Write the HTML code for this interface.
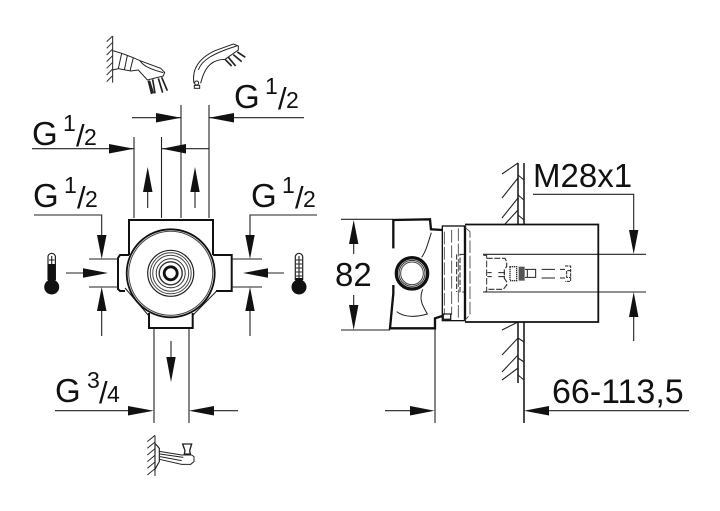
<!DOCTYPE html>
<html><head><meta charset="utf-8"><style>
html,body{margin:0;padding:0;background:#fff;width:720px;height:511px;overflow:hidden}
svg{display:block}
text{font-family:"Liberation Sans",sans-serif;fill:#111}
.g{font-size:33px}.f{font-size:23px}.s{font-size:31px}
.l{stroke:#222;stroke-width:1.1;fill:none}
.t{stroke:#111;stroke-width:2;fill:none}
.a{fill:#111;stroke:none}
.h{stroke:#333;stroke-width:3;fill:none}
.i{stroke:#222;stroke-width:3;fill:none}
.d{stroke:#444;stroke-width:2.6;fill:none;stroke-dasharray:38 8}
</style></head><body>
<svg width="720" height="511" viewBox="0 0 720 511" xmlns="http://www.w3.org/2000/svg">

<!-- text -->
<text class="g" x="234" y="108">G</text><text class="f" x="265" y="94">1</text><text class="s" x="278" y="109">/</text><text class="f" x="286" y="108">2</text>
<text class="g" x="32" y="145">G</text><text class="f" x="63" y="131">1</text><text class="s" x="76" y="146">/</text><text class="f" x="84" y="145">2</text>
<text class="g" x="33" y="207">G</text><text class="f" x="64" y="193">1</text><text class="s" x="77" y="208">/</text><text class="f" x="85" y="207">2</text>
<text class="g" x="251" y="207">G</text><text class="f" x="282" y="193">1</text><text class="s" x="295" y="208">/</text><text class="f" x="303" y="207">2</text>
<text class="g" x="55" y="402">G</text><text class="f" x="87" y="388">3</text><text class="s" x="99" y="403">/</text><text class="f" x="107" y="402">4</text>
<text class="g" x="533" y="187">M28x1</text>
<text class="g" x="335" y="286">82</text>
<text class="g" style="font-size:34px" x="552" y="403">66-113,5</text>

<!-- top dims -->
<path class="l" d="M132 117.7H181M181 105V218M209 105V218M209 117.7H304M32 148.7H134M134 137V218M161.5 137V218M161.5 148.7H209"/>
<polygon class="a" points="181,117.7 156,113 156,122.5"/>
<polygon class="a" points="209,117.7 234,113 234,122.5"/>
<polygon class="a" points="134,148.7 109,144 109,153.5"/>
<polygon class="a" points="162,148.7 186,144 186,153.5"/>
<path class="l" d="M147.7 190V208M195 190V208"/>
<polygon class="a" points="147.7,167 143,192 152.5,192"/>
<polygon class="a" points="195,167 190.3,192 199.7,192"/>

<!-- main body -->
<path class="t" d="M129 255V220H213V255"/>
<path class="t" d="M129 255H120L118 258V289L120 291H125"/>
<path class="t" d="M213 255H231.7V291H216"/>
<path class="l" d="M125 288L149 316M216.7 291L193 315"/>
<path class="t" d="M149 313V328H192.7V313"/>
<circle cx="170.7" cy="273.3" r="44" fill="#fff" stroke="#111" stroke-width="1.8"/>
<circle cx="170.7" cy="273.3" r="42" fill="none" stroke="#444" stroke-width="1"/>
<circle cx="170.7" cy="273.3" r="23" fill="none" stroke="#222" stroke-width="1.2"/>
<circle cx="170.7" cy="273.3" r="20.5" fill="none" stroke="#444" stroke-width="1"/>
<circle cx="170.7" cy="273.3" r="18" fill="none" stroke="#444" stroke-width="1"/>
<circle cx="170.7" cy="273.3" r="14.5" fill="none" stroke="#333" stroke-width="1"/>
<circle cx="170.7" cy="273.3" r="11.5" fill="none" stroke="#333" stroke-width="1.4"/>
<circle cx="170.7" cy="273.3" r="6.5" fill="none" stroke="#111" stroke-width="2.8"/>
<path class="l" d="M154 329V423M189 329V423"/>

<!-- left/right dims -->
<path class="l" d="M34 215H101.7V240M89 259H118M89 287H118M66 273H90M101.7 305V336"/>
<polygon class="a" points="101.7,259 97,235 106.5,235"/>
<polygon class="a" points="101.7,287 97,311 106.5,311"/>
<polygon class="a" points="108,273 83,268.3 83,277.7"/>
<path class="l" d="M317 215H250V240M232 259H262M232 287H262M284 273H262M250 305V336"/>
<polygon class="a" points="250,259 245.3,235 254.7,235"/>
<polygon class="a" points="250,287 245.3,311 254.7,311"/>
<polygon class="a" points="243,273 268,268.3 268,277.7"/>

<!-- thermometers -->
<g>
<path d="M48 280V257a3.7 3.7 0 0 1 7.4 0V280" fill="#fff" stroke="#222" stroke-width="1.2"/>
<rect x="48" y="264" width="7.4" height="20" fill="#111"/>
<circle cx="51.7" cy="287" r="7.5" fill="#111"/>
<path class="l" d="M51.7 256V264M49 260H54.4"/>
<path d="M295.3 280V257a3.7 3.7 0 0 1 7.4 0V280" fill="#fff" stroke="#222" stroke-width="1.2"/>
<rect x="295.3" y="278" width="7.4" height="6" fill="#111"/>
<circle cx="299" cy="287" r="7.5" fill="#111"/>
<path class="l" d="M299 256V278M296 260H302M296 264H302M296 268H302M296 272H302M296 276H302"/>
</g>

<!-- bottom dims -->
<path class="l" d="M171 341V360M55 410.7H130M214 410.7H238"/>
<polygon class="a" points="171,382 166.3,357 175.7,357"/>
<polygon class="a" points="153.7,410.7 128,406 128,415.5"/>
<polygon class="a" points="189,410.7 214,406 214,415.5"/>

<!-- shower 1 -->
<g transform="translate(90 20) scale(.3333)">
<path class="i" d="M68 48V188"/>
<path class="h" d="M50 65L68 48M50 85L68 67M50 105L68 87M50 125L68 107M50 145L68 127M50 165L68 147M50 185L68 167"/>
<path class="i" d="M68 92L95 100L130 113L150 122L212 145L224 157L220 168L172 180L145 150L122 153L85 146L68 150"/>
<path class="i" d="M95 100L85 146M112 107L103 150M130 113L120 153M150 122C160 140 190 150 220 158"/>
<path d="M175 182L185 222M188 178L195 220M205 175L218 218M215 172L232 212M178 182L190 220" stroke="#222" stroke-width="5" fill="none"/>
</g>
<!-- shower 2 -->
<g transform="translate(90 20) scale(.3333)">
<path class="i" stroke-width="4" d="M312 190C305 150 325 115 375 92L430 72L445 78L445 90L405 118C370 118 345 135 332 190"/>
<path class="i" d="M325 150C335 120 370 100 440 78"/>
<circle cx="320" cy="189" r="6" fill="#fff" stroke="#222" stroke-width="3"/>
<rect x="313" y="196" width="16" height="9" fill="#fff" stroke="#222" stroke-width="3"/>
<path d="M405 118L425 138M415 112L437 138M430 104L455 125M442 96L466 112" stroke="#222" stroke-width="5" fill="none"/>
</g>

<!-- tap -->
<g transform="translate(40 330) scale(.3333)">
<path class="i" d="M345 316V438"/>
<path class="h" d="M322 335L345 316M322 355L345 336M322 375L345 356M322 395L345 376M322 415L345 396M322 435L345 416"/>
<path d="M345 340L358 355V395L345 418Z" fill="#fff" stroke="#222" stroke-width="3.5"/>
<path class="i" d="M358 364L425 375H455L462 380V395L452 403H425L358 388"/>
<path class="i" d="M360 372L430 382M360 380L425 392"/>
<path d="M428 342H455L449 362L451 372H433L435 362Z" fill="#fff" stroke="#222" stroke-width="4"/>
</g>

<!-- right view dims -->
<path class="l" d="M341 219.3H393M341 330H390M353.7 240V254M353.7 295V310"/>
<polygon class="a" points="353.7,220 349,244 358.4,244"/>
<polygon class="a" points="353.7,330 349,305 358.4,305"/>
<path class="l" d="M435 318V423M385 410.7H412M549 410.7H689M524 322V423"/>
<polygon class="a" points="434.5,410.7 410,406 410,415.5"/>
<polygon class="a" points="524,410.7 549,406 549,415.5"/>
<path class="l" d="M533 194.3H633.7V232M483 254.3H646M483 292H646M633.7 315V341"/>
<polygon class="a" points="633.7,254 629,230 638.4,230"/>
<polygon class="a" points="633.7,292 629,317 638.4,317"/>

<!-- wall -->
<g>
<path stroke="#222" stroke-width="1.6" fill="none" d="M518 163V224M524 163V224M518 322V383M524 322V423"/>
<path class="l" d="M502 174L518 163M502 198L518 178M502 218L518 198M505 224L518 210M518 175L524 180M518 195L524 200M518 215L524 220"/>
<path class="l" d="M502 330L518 322M502 355L518 338M502 372L518 355M502 380L518 368M518 338L524 342M518 358L524 362M518 375L524 380"/>
</g>

<!-- valve side -->
<g transform="translate(330 150) scale(.3333)">
<path d="M190 295V210L300 208L303 238L337 240" stroke="#111" stroke-width="7" fill="none"/>
<path d="M190 405V430L180 535H315V505L337 498" stroke="#111" stroke-width="7" fill="none"/>
<path class="i" d="M304 248C295 275 290 300 275 322M200 485C225 505 265 500 292 492C280 470 265 450 278 418"/>
<circle cx="246" cy="370" r="47" fill="#fff" stroke="#111" stroke-width="10"/>
<circle cx="246" cy="370" r="39" fill="none" stroke="#333" stroke-width="3"/>
<circle cx="246" cy="370" r="34" fill="none" stroke="#444" stroke-width="3"/>
<rect x="337" y="228" width="68" height="284" fill="#fff" stroke="#111" stroke-width="4"/>
<path d="M405 228V512" stroke="#111" stroke-width="7"/>
<path class="d" d="M343 245V495M365 240V495M385 235V505"/>
<path class="d" d="M405 232L420 245V495L405 510"/>
<path d="M340 492H362V508H340Z" fill="none" stroke="#222" stroke-width="4"/>
</g>
<path d="M465 224.5H598.3V322H465" stroke="#111" stroke-width="1.8" fill="none"/>

<!-- internals -->
<g transform="translate(470 150) scale(.3333)">
<path class="i" d="M-40 313V426M-18 313H-30V426H-18" stroke-dasharray="16 6"/>
<path d="M40 316H50V425H40" fill="none" stroke="#333" stroke-width="3" stroke-dasharray="20 6"/>
<path d="M50 325H105L110 335V350L103 358V385L110 395V405L100 418H50" fill="none" stroke="#333" stroke-width="3.5" stroke-dasharray="18 5"/>
<path class="i" d="M52 368H65M52 380H65M85 368H105M85 380H105"/>
<rect x="120" y="350" width="20" height="42" fill="none" stroke="#333" stroke-width="4" stroke-dasharray="4 2"/>
<rect x="146" y="350" width="18" height="42" fill="#555"/>
<path class="i" d="M165 358H197V382H165M172 358V382"/>
<path class="i" d="M215 358H255M215 384H255M270 358H285M270 384H285"/>
<path class="i" d="M285 348H302V394H285M302 362H290V382H302" stroke-dasharray="10 3"/>
</g>
</svg>
</body></html>
